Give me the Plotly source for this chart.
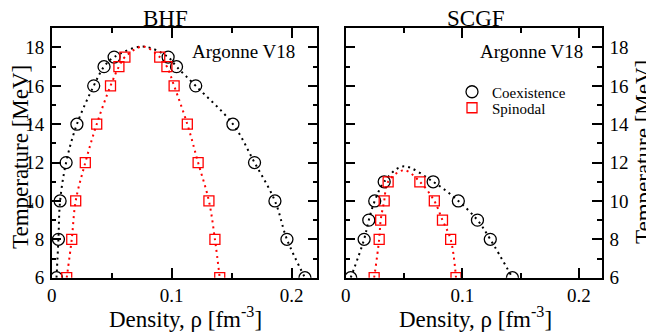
import plotly.graph_objects as go

# ---------------- data ----------------
bhf_T = [6, 8, 10, 12, 14, 16, 17, 17.5]
bhf_coex_low = [0.004, 0.0056, 0.007, 0.012, 0.021, 0.035, 0.0436, 0.052]
bhf_coex_high = [0.211, 0.196, 0.186, 0.169, 0.151, 0.120, 0.104, 0.097]
bhf_spin_low = [0.0125, 0.0167, 0.020, 0.028, 0.0375, 0.049, 0.056, 0.061]
bhf_spin_high = [0.140, 0.136, 0.131, 0.122, 0.113, 0.102, 0.096, 0.090]
bhf_crit_rho = 0.076
bhf_crit_T = 18.05

scgf_T = [6, 8, 9, 10, 11]
scgf_coex_low = [0.0043, 0.0158, 0.0198, 0.0249, 0.033]
scgf_coex_high = [0.143, 0.124, 0.113, 0.0966, 0.075]
scgf_spin_low = [0.0244, 0.0287, 0.030, 0.033, 0.0364]
scgf_spin_high = [0.0946, 0.090, 0.083, 0.076, 0.0636]
scgf_crit_coex_rho, scgf_crit_coex_T = 0.049, 11.8
scgf_crit_spin_rho, scgf_crit_spin_T = 0.050, 11.6

y_ticks = [6, 8, 10, 12, 14, 16, 18]
x_ticks = [0, 0.1, 0.2]
x_ticklabels = ["0", "0.1", "0.2"]

# page is 654x334; the html body keeps an 8px margin, so the figure itself is 646x326
OFF = 8
W, H = 654 - OFF, 334 - OFF
FONT = "Liberation Serif, Times New Roman, serif"
BLACK = "#000000"
RED = "#ff0000"


def curve(low, high, T, crit_rho, crit_T):
    xs = list(low) + [crit_rho] + list(reversed(high))
    ys = list(T) + [crit_T] + list(reversed(T))
    return xs, ys


fig = go.Figure()


def add_panel(xa, ya, T, cl, ch, sl, sh, ccr, cct, scr, sct, legend):
    cx, cy = curve(cl, ch, T, ccr, cct)
    sx, sy = curve(sl, sh, T, scr, sct)
    fig.add_trace(go.Scatter(x=cx, y=cy, mode="lines", line=dict(color=BLACK, width=2, dash="2px,4px", shape="spline"),
                             showlegend=False, xaxis=xa, yaxis=ya, hoverinfo="skip"))
    fig.add_trace(go.Scatter(x=sx, y=sy, mode="lines", line=dict(color=RED, width=2, dash="2px,4px", shape="spline"),
                             showlegend=False, xaxis=xa, yaxis=ya, hoverinfo="skip"))
    fig.add_trace(go.Scatter(x=list(cl) + list(ch), y=list(T) + list(T), mode="markers", name="Coexistence",
                             marker=dict(symbol="circle-open", size=12, color=BLACK, line=dict(width=1.3, color=BLACK)),
                             showlegend=legend, legend="legend", xaxis=xa, yaxis=ya))
    fig.add_trace(go.Scatter(x=list(sl) + list(sh), y=list(T) + list(T), mode="markers", name="Spinodal",
                             marker=dict(symbol="square-open", size=10, color=RED, line=dict(width=1.3, color=RED)),
                             showlegend=legend, legend="legend2", xaxis=xa, yaxis=ya))


add_panel("x", "y", bhf_T, bhf_coex_low, bhf_coex_high, bhf_spin_low, bhf_spin_high,
          bhf_crit_rho, bhf_crit_T, bhf_crit_rho, bhf_crit_T, False)
add_panel("x2", "y2", scgf_T, scgf_coex_low, scgf_coex_high, scgf_spin_low, scgf_spin_high,
          scgf_crit_coex_rho, scgf_crit_coex_T, scgf_crit_spin_rho, scgf_crit_spin_T, True)


def px_x(p):
    return (p - OFF) / W


def px_y(p):
    return 1 - (p - OFF) / H


ydom = [px_y(277.7), px_y(28.3)]
common_x = dict(showgrid=False, zeroline=False, showline=True, linecolor=BLACK, linewidth=1.5, mirror="ticks",
                ticks="inside", ticklen=10, tickwidth=1.5, tickcolor=BLACK, automargin=False,
                tickvals=x_ticks, ticktext=x_ticklabels,
                tickfont=dict(family=FONT, size=19, color=BLACK),
                minor=dict(dtick=0.05, tick0=0, ticks="inside", ticklen=5, tickwidth=1.5, tickcolor=BLACK),
                fixedrange=True)
common_y = dict(showgrid=False, zeroline=False, showline=True, linecolor=BLACK, linewidth=1.5, mirror="ticks",
                ticks="inside", ticklen=10, tickwidth=1.5, tickcolor=BLACK, range=[6, 19], automargin=False,
                tickvals=y_ticks,
                tickfont=dict(family=FONT, size=19, color=BLACK),
                minor=dict(dtick=1, tick0=0, ticks="inside", ticklen=5, tickwidth=1.5, tickcolor=BLACK),
                fixedrange=True)

legend_common = dict(xanchor="left", yanchor="middle", bgcolor="rgba(0,0,0,0)",
                     font=dict(family=FONT, size=15, color=BLACK), itemwidth=30, tracegroupgap=0)

fig.update_layout(
    width=W, height=H, autosize=False,
    margin=dict(l=0, r=0, t=0, b=0, autoexpand=False),
    paper_bgcolor="white", plot_bgcolor="white",
    font=dict(family=FONT, color=BLACK),
    xaxis=dict(domain=[px_x(51.7), px_x(317.3)], range=[0, 0.2213], anchor="y", **common_x),
    yaxis=dict(domain=ydom, anchor="x", side="left", ticklabelstandoff=2, **common_y),
    xaxis2=dict(domain=[px_x(345.7), px_x(602)], range=[0, 0.2198], anchor="y2", **common_x),
    yaxis2=dict(domain=ydom, anchor="x2", side="right", ticklabelstandoff=2, **common_y),
    legend=dict(x=px_x(452), y=px_y(92), **legend_common),
    legend2=dict(x=px_x(452), y=px_y(108), **legend_common),
    showlegend=True,
)

ann = []


def text(x, y, s, size, angle=0):
    ann.append(dict(x=px_x(x), y=px_y(y), xref="paper", yref="paper", text=s, showarrow=False,
                    xanchor="center", yanchor="middle", textangle=angle,
                    font=dict(family=FONT, size=size, color=BLACK)))


text(165, 18, "BHF", 23)
text(476, 18, "SCGF", 23)
text(243, 51, "Argonne V18", 19)
text(531.5, 51, "Argonne V18", 19)
text(20, 157, "Temperature [MeV]", 23, -90)
text(643, 152, "Temperature [MeV]", 23, -90)
text(185, 317, "Density, ρ [fm<sup>-3</sup>]", 23)
text(475, 317, "Density, ρ [fm<sup>-3</sup>]", 23)
fig.update_layout(annotations=ann)

fig.write_html("out.html")
